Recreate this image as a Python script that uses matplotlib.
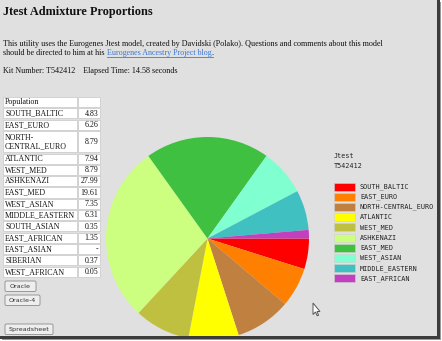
import matplotlib.pyplot as plt
from matplotlib.patches import Rectangle, FancyBboxPatch, Polygon

# pie / legend data (Jtest admixture, kit T542412)
pie_labels = ["SOUTH_BALTIC", "EAST_EURO", "NORTH-CENTRAL_EURO", "ATLANTIC", "WEST_MED",
              "ASHKENAZI", "EAST_MED", "WEST_ASIAN", "MIDDLE_EASTERN", "EAST_AFRICAN"]
pie_values = [4.83, 6.26, 8.79, 7.94, 8.79, 27.99, 19.61, 7.35, 6.31, 1.35]
pie_colors = ["#ff0000", "#ff8000", "#c08040", "#ffff00", "#c0c040",
              "#ccff80", "#40c040", "#80ffd0", "#40c0c0", "#c040c0"]

# table on the left
table_labels = ["SOUTH_BALTIC", "EAST_EURO", "NORTH-\nCENTRAL_EURO", "ATLANTIC", "WEST_MED",
                "ASHKENAZI", "EAST_MED", "WEST_ASIAN", "MIDDLE_EASTERN", "SOUTH_ASIAN",
                "EAST_AFRICAN", "EAST_ASIAN", "SIBERIAN", "WEST_AFRICAN"]
table_values = ["4.83", "6.26", "8.79", "7.94", "8.79", "27.99", "19.61", "7.35", "6.31",
                "0.35", "1.35", "-", "0.37", "0.05"]

buttons = ["Oracle", "Oracle-4", "Spreadsheet"]

BG = "#e0e0e0"
SERIF = "Liberation Serif"

fig = plt.figure(figsize=(4.42, 3.41), dpi=100)
fig.patch.set_facecolor("white")
ax = fig.add_axes([0, 0, 1, 1])
renderer = fig.canvas.get_renderer()


def fit(x, y, s, width, **kw):
    "text scaled so that it is `width` pixels wide"
    t = ax.text(x, y, s, **kw)
    for _ in range(2):
        w = t.get_window_extent(renderer).width
        t.set_fontsize(t.get_fontsize() * width / w)
    return t


ax.add_patch(Rectangle((0, 0), 437, 336, facecolor=BG, edgecolor="none", zorder=0))

# pie
wedges, _ = ax.pie(pie_values, colors=pie_colors, center=(207.5, 238.5), radius=101.5,
                   startangle=0, wedgeprops=dict(linewidth=0))
ax.set_xlim(0, 442)
ax.set_ylim(341, 0)
ax.set_aspect("auto")
ax.axis("off")

# header texts
fit(3, 12.5, "Jtest Admixture Proportions", 150, family=SERIF, weight="bold",
    va="center", color="#111111")
fit(3, 43.5, "This utility uses the Eurogenes Jtest model, created by Davidski (Polako). "
    "Questions and comments about this model", 380, family=SERIF, va="center",
    color="#111111")
t1 = fit(3, 52.7, "should be directed to him at his", 101, family=SERIF, va="center",
         color="#111111")
fs = t1.get_fontsize()
link = fit(107, 52.7, "Eurogenes Ancestry Project blog", 106, family=SERIF, va="center",
           color="#3a78d8")
ax.plot([107, 213], [57, 57], color="#3a78d8", lw=0.6)
ax.text(211.3, 52.7, ".", family=SERIF, va="center", fontsize=fs, color="#111111")
fit(3, 71, "Kit Number: T542412    Elapsed Time: 14.58 seconds", 174, family=SERIF,
    va="center", color="#111111")

# table
pitch = 11.3
y = 97
rows = [("Population", "")] + list(zip(table_labels, table_values))
tt = fit(5, 0, "MIDDLE_EASTERN", 70, family=SERIF, va="center")
tfs = tt.get_fontsize()
tt.remove()
for lab, val in rows:
    n = lab.count("\n") + 1
    h = pitch * n - 1.2
    ax.add_patch(Rectangle((3, y), 74, h, facecolor="white", edgecolor="#c8c8c8", lw=0.5))
    ax.add_patch(Rectangle((78, y), 21.5, h, facecolor="white", edgecolor="#c8c8c8", lw=0.5))
    ax.text(5, y + h / 2 + 0.3, lab, family=SERIF, fontsize=tfs, va="center",
            color="#111111", linespacing=1.05)
    ax.text(98.3, y + h / 2 + 0.3, val, family=SERIF, fontsize=tfs, va="center", ha="right",
            color="#111111")
    y += pitch * n

# buttons
btn_pos = [(5, 281, 31), (5, 295, 35), (5, 324, 48)]
for name, (bx, by, bw) in zip(buttons, btn_pos):
    ax.add_patch(FancyBboxPatch((bx, by), bw, 10.5, boxstyle="round,pad=0,rounding_size=1.5",
                                facecolor="#eeeeee", edgecolor="#8c8c8c", lw=0.6))
    ax.text(bx + bw / 2, by + 5.5, name, fontsize=4.6, ha="center", va="center",
            color="#333333", family="DejaVu Sans")

# legend
MONO = "DejaVu Sans Mono"
ax.text(334, 156, "Jtest", family=MONO, fontsize=4.9, va="center", color="#222222")
ax.text(334, 166, "T542412", family=MONO, fontsize=4.9, va="center", color="#222222")
for i, (lab, c) in enumerate(zip(pie_labels, pie_colors)):
    ly = 182.5 + i * 10.2
    ax.add_patch(Rectangle((334, ly), 21, 8, facecolor=c, edgecolor="#d0d0d0", lw=0.4))
    ax.text(360, ly + 4.2, lab, family=MONO, fontsize=4.9, va="center", color="#222222")

# mouse pointer
ax.add_patch(Polygon([(313, 303), (313, 314.5), (315.5, 312), (317.2, 315.8), (318.6, 315.2),
                      (317, 311.5), (320, 311.5)], closed=True, facecolor="white",
                     edgecolor="#555555", lw=0.7, zorder=5))

# window edge / shadow
ax.add_patch(Rectangle((437, 0), 6, 342, facecolor="white", edgecolor="none", zorder=9))
ax.add_patch(Rectangle((0, 336), 443, 6, facecolor="white", edgecolor="none", zorder=9))
ax.add_patch(Rectangle((437, 0), 2.5, 338.5, facecolor="#3c3c3c", edgecolor="none", zorder=10))
ax.add_patch(Rectangle((0, 336), 439.5, 2.5, facecolor="#3c3c3c", edgecolor="none", zorder=10))
ax.add_patch(Rectangle((439.5, 2), 1.5, 338, facecolor="#9a9a9a", edgecolor="none", zorder=10))
ax.add_patch(Rectangle((2, 338.5), 439, 1.5, facecolor="#9a9a9a", edgecolor="none", zorder=10))

fig.savefig("out.png", dpi=100, facecolor=fig.get_facecolor())
